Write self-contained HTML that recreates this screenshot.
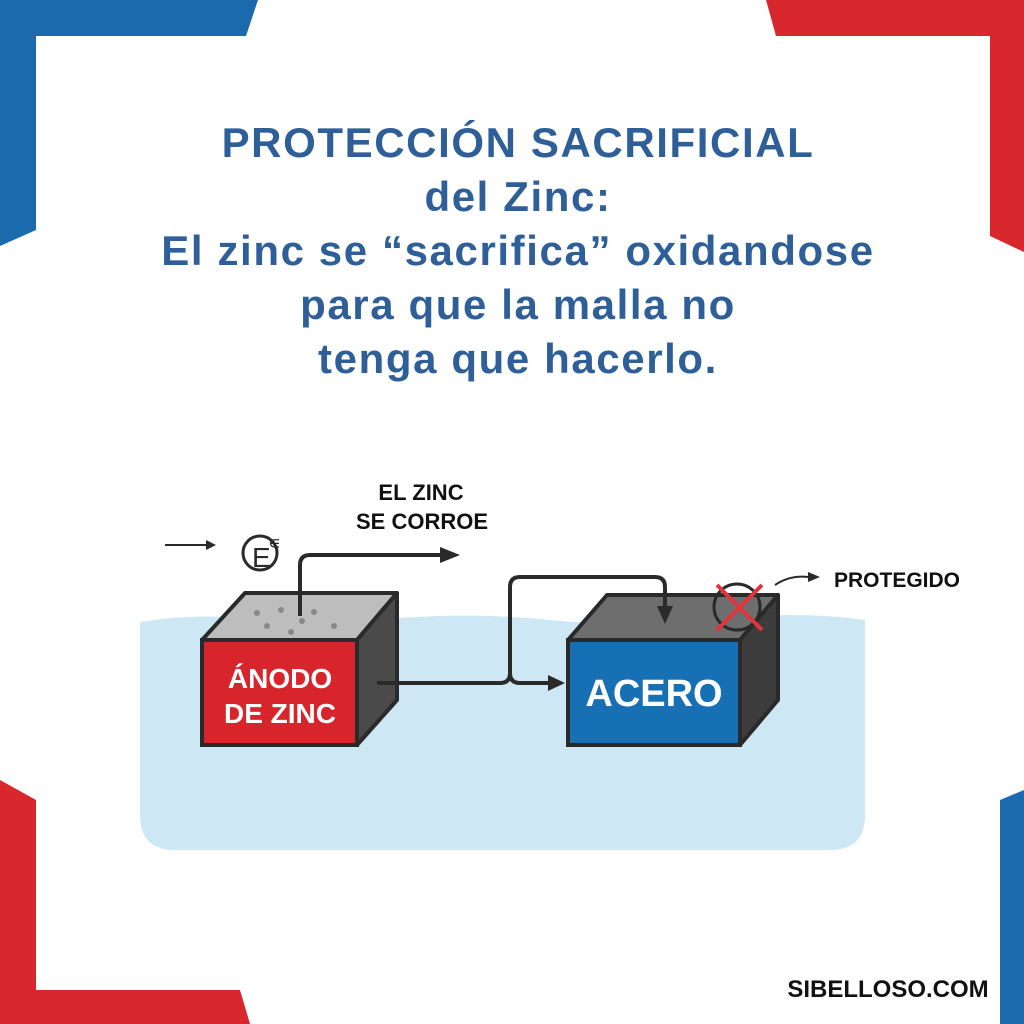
<!DOCTYPE html>
<html><head><meta charset="utf-8"><style>
html,body{margin:0;padding:0;background:#fff;}
#c{position:relative;width:1024px;height:1024px;overflow:hidden;background:#fff;font-family:"Liberation Sans",sans-serif;}
.t{position:absolute;left:0;width:1036px;text-align:center;color:#2f5f99;font-weight:bold;font-size:42px;line-height:54px;top:116px;letter-spacing:1.6px}
</style></head><body><div id="c">
<svg width="1024" height="1024" style="position:absolute;left:0;top:0">
<polygon points="0,0 258,0 246,36 36,36 36,230 0,246" fill="#1a6aad"/>
<polygon points="766,0 1024,0 1024,252 990,236 990,36 776,36" fill="#d8282e"/>
<polygon points="0,780 36,800 36,990 240,990 250,1024 0,1024" fill="#d8282e"/>
<polygon points="1000,800 1024,790 1024,1024 1000,1024" fill="#1a6aad"/>
<path d="M140,622 Q200,612 260,620 Q330,628 400,618 Q480,612 560,621 Q650,628 740,617 Q810,612 865,620 L865,815 Q865,850 830,850 L175,850 Q140,850 140,815 Z" fill="#cde7f5"/>
<polygon points="202,640 245,593 397,593 357,640" fill="#bdbdbd" stroke="#2a2a2a" stroke-width="4" stroke-linejoin="round"/>
<polygon points="357,640 397,593 397,700 357,745" fill="#4a4a4a" stroke="#2a2a2a" stroke-width="4" stroke-linejoin="round"/>
<rect x="202" y="640" width="155" height="105" fill="#d8252c" stroke="#2a2a2a" stroke-width="4"/>
<g fill="#888"><circle cx="257" cy="613" r="3"/><circle cx="281" cy="610" r="3"/><circle cx="302" cy="621" r="3"/><circle cx="314" cy="612" r="3"/><circle cx="267" cy="626" r="3"/><circle cx="291" cy="632" r="3"/><circle cx="334" cy="626" r="3"/></g>
<polygon points="568,640 607,595 778,595 740,640" fill="#6e6e6e" stroke="#2a2a2a" stroke-width="4" stroke-linejoin="round"/>
<polygon points="740,640 778,595 778,700 740,745" fill="#3c3c3c" stroke="#2a2a2a" stroke-width="4" stroke-linejoin="round"/>
<rect x="568" y="640" width="172" height="105" fill="#1670b3" stroke="#2a2a2a" stroke-width="4"/>
<g fill="none" stroke="#2a2a2a" stroke-width="4">
<path d="M300,616 L300,565 Q300,555 310,555 L440,555"/>
<path d="M377,683 L500,683 Q510,683 510,673 L510,587 Q510,577 520,577 L655,577 Q665,577 665,587 L665,610"/>
<path d="M510,673 Q510,683 520,683 L548,683"/>
<path d="M165,545 L208,545" stroke-width="2"/>
<path d="M775,585 Q790,575 808,577" stroke-width="2"/>
<circle cx="737" cy="607" r="23" stroke-width="3"/>
</g>
<g fill="#2a2a2a">
<polygon points="440,547 460,555 440,563"/>
<polygon points="548,675 565,683 548,691"/>
<polygon points="657,606 665,624 673,606"/>
<polygon points="206,540 216,545 206,550"/>
<polygon points="808,572 820,577 808,582"/>
</g>
<g stroke="#e0353a" stroke-width="4"><line x1="717" y1="585" x2="762" y2="630"/><line x1="762" y1="585" x2="717" y2="630"/></g>
<circle cx="260" cy="553" r="17" fill="none" stroke="#2a2a2a" stroke-width="3"/>
<text x="252" y="567" font-family="Liberation Sans" font-size="28" fill="#2a2a2a">E</text>
<text x="268" y="549" font-family="Liberation Sans" font-size="18" fill="#2a2a2a">∊</text>
<g font-family="Liberation Sans" font-weight="bold" text-anchor="middle">
<text x="421" y="500" font-size="22" fill="#111">EL ZINC</text>
<text x="422" y="529" font-size="22" fill="#111">SE CORROE</text>
<text x="280" y="688" font-size="28" fill="#fff">ÁNODO</text>
<text x="280" y="723" font-size="28" fill="#fff">DE ZINC</text>
<text x="654" y="706" font-size="38" fill="#fff">ACERO</text>
<text x="897" y="587" font-size="21" fill="#111">PROTEGIDO</text>
<text x="888" y="997" font-size="24" fill="#111">SIBELLOSO.COM</text>
</g>
</svg>
<div class="t">PROTECCIÓN SACRIFICIAL<br>del Zinc:<br>El zinc se “sacrifica” oxidandose<br>para que la malla no<br>tenga que hacerlo.</div>
</div></body></html>
